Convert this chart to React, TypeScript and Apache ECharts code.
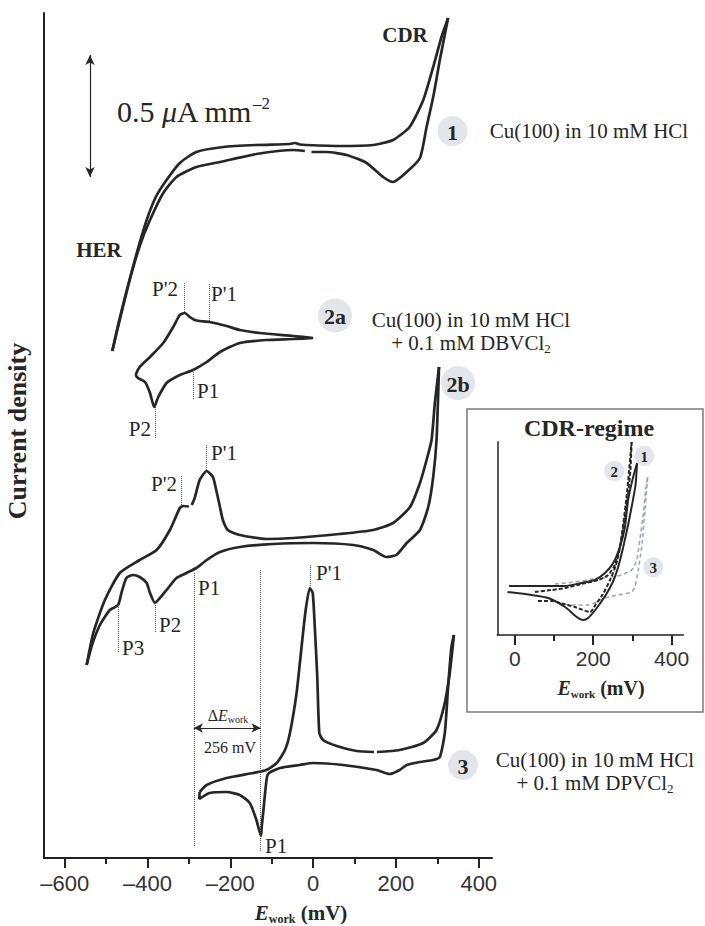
import React, { useEffect, useRef } from 'react';
import * as echarts from 'echarts';

// ---------- tick values (mV) ----------
const mainMajorTicks = [-600, -400, -200, 0, 200, 400];
const mainMinorTicks = [-500, -300, -100, 100, 300];
const insetMajorTicks = [0, 200, 400];
const insetMinorTicks = [100, 300];

// ---------- main panel: [E_work (mV), current density (offset, arb. units)] ----------
// 1: Cu(100) in 10 mM HCl
const cv1Anodic = [[-485, 507], [-470, 535], [-450, 568], [-426, 605], [-402, 638], [-380, 661], [-354, 678], [-322, 695], [-282, 706], [-217, 711], [-137, 713], [-56, 714], [-44, 715], [-32, 713.5], [-16, 713], [64, 712], [145, 713], [193, 718], [233, 731], [266, 758], [290, 791], [310, 821], [326, 840]];
const cv1CathodicA = [[326, 840], [306, 798], [290, 761], [274, 731], [258, 700], [226, 686], [193, 676], [169, 681], [129, 695], [81, 703], [32, 706], [-4, 706]];
const cv1CathodicB = [[-20, 707], [-48, 708], [-137, 704], [-225, 696], [-282, 691], [-330, 681], [-362, 665], [-394, 638], [-418, 613], [-443, 578], [-467, 538], [-485, 507]];

// 2a: + 0.1 mM DBVCl2 (closed loop)
const cv2aLoop = [[0, 520], [-48, 522], [-129, 525], [-177, 528], [-209, 532], [-250, 536], [-274, 537], [-286, 538], [-298, 541], [-310, 545], [-322, 543], [-338, 531], [-362, 515], [-394, 501], [-419, 491], [-428, 483], [-423, 480], [-406, 476], [-394, 465], [-384, 451], [-374, 461], [-354, 475], [-322, 483], [-290, 488], [-257, 496], [-225, 506], [-177, 515], [-113, 518], [-48, 519], [0, 520]];

// 2b
const cv2bAnodicA = [[-547, 193], [-531, 225], [-503, 258], [-467, 285], [-419, 298], [-378, 308], [-346, 328], [-322, 350], [-314, 352], [-300, 351.5]];
const cv2bAnodicB = [[-293, 353], [-286, 360], [-274, 378], [-257, 387], [-242, 381], [-233, 366], [-225, 351], [-218, 338], [-206, 328], [-177, 323], [-113, 319], [-48, 320], [64, 324], [145, 328], [193, 335], [234, 351], [258, 375], [274, 398], [286, 418], [294, 455], [304, 491]];
const cv2bCathodic = [[304, 491], [298, 418], [290, 381], [278, 351], [258, 328], [226, 315], [201, 303], [177, 301], [145, 308], [97, 313], [0, 315], [-97, 314], [-177, 311], [-225, 306], [-257, 298], [-282, 290], [-306, 285], [-330, 280], [-354, 268], [-370, 260], [-382, 255], [-394, 265], [-402, 275], [-419, 281], [-435, 283], [-451, 280], [-463, 265], [-471, 253], [-491, 248], [-515, 233], [-534, 213], [-547, 193]];

// 3: + 0.1 mM DPVCl2
const cv3AnodicA = [[-274, 66], [-257, 73], [-209, 80], [-145, 85], [-113, 88], [-88, 95], [-68, 108], [-56, 125], [-40, 165], [-28, 211], [-18, 248], [-8, 270], [-1, 265], [4, 231], [10, 181], [15, 125], [24, 118], [57, 112], [105, 107], [147, 106]];
const cv3AnodicB = [[154, 106], [209, 108], [266, 115], [298, 128], [318, 155], [330, 185], [337, 211], [340, 223]];
const cv3Cathodic = [[340, 223], [334, 211], [326, 171], [318, 125], [306, 101], [290, 98], [258, 96], [226, 93], [209, 88], [185, 84], [153, 88], [72, 93], [0, 95], [-32, 93], [-80, 90], [-109, 84], [-114, 73], [-119, 52], [-124, 32], [-126, 22], [-137, 38], [-153, 55], [-177, 63], [-209, 66], [-250, 65], [-275, 59], [-274, 66]];

// peak marker lines: [E (mV), from, to]
const markers2a = [[-311, 546, 576], [-252, 537, 575], [-290, 488, 458], [-382, 451, 420]];
const markers2b = [[-257, 388, 413], [-318, 353, 383], [-288, 285, 11], [-381, 255, 225], [-471, 253, 205]];
const markers3 = [[-6, 270, 293], [-127, 288, 6]];
const deltaArrow = [[-288, 130], [-127, 130]];
const scaleBar = [[-539, 681], [-539, 803]];

// ---------- inset (CDR-regime) ----------
const inset1Anodic = [[-15, 49], [64, 49], [128, 49], [170, 52], [204, 55], [230, 62], [251, 72], [268, 88], [281, 108], [289, 135], [300, 155], [312, 172]];
const inset1Cathodic = [[312, 172], [308, 150], [299, 130], [289, 110], [276, 87], [263, 67], [250, 53], [232, 40], [209, 27], [187, 17], [174, 15], [158, 18], [128, 28], [85, 37], [43, 40], [-19, 43]];
const inset2Anodic = [[51, 43], [94, 45], [128, 47], [170, 51], [213, 55], [238, 60], [255, 70], [268, 88], [277, 112], [285, 138], [291, 162], [298, 193]];
const inset2Cathodic = [[298, 193], [295, 165], [287, 135], [278, 110], [268, 87], [258, 70], [243, 55], [225, 41], [207, 31], [192, 23], [153, 28], [115, 32], [94, 34], [55, 34]];
const inset3Anodic = [[102, 51], [153, 53], [213, 57], [247, 58], [272, 60], [298, 65], [311, 75], [319, 95], [328, 122], [334, 145], [339, 158]];
const inset3Cathodic = [[339, 158], [332, 125], [325, 92], [315, 65], [306, 48], [298, 43], [264, 40], [230, 37], [187, 30], [145, 30], [102, 33]];

const SERIF = '"Liberation Serif", "Times New Roman", serif';
const SANS = '"Liberation Sans", Arial, sans-serif';
const INK = '#262626';
const BADGE = '#e2e5ea';

const dash = (v: number) => (v < 0 ? '\u2013' + Math.abs(v) : String(v));

function curve(data: number[][], grid: number, style: any) {
  return {
    type: 'line',
    data,
    xAxisIndex: grid === 0 ? 0 : 2,
    yAxisIndex: grid,
    showSymbol: false,
    symbol: 'none',
    smooth: 0.2,
    silent: true,
    z: 3,
    lineStyle: style,
  };
}

function markerLines(list: number[][]) {
  return {
    silent: true,
    symbol: ['none', 'none'],
    label: { show: false },
    lineStyle: { type: 'dotted', color: '#555', width: 1 },
    data: list.map(([x, a, b]) => [{ coord: [x, a] }, { coord: [x, b] }]),
  };
}

function text(x: number, y: number, t: string, size: number, o: any = {}) {
  return {
    type: 'text',
    x,
    y,
    z: 20,
    rotation: o.rotation || 0,
    style: {
      text: t,
      fill: INK,
      fontFamily: o.family || SERIF,
      fontSize: size,
      fontWeight: o.bold ? 'bold' : 'normal',
      fontStyle: o.italic ? 'italic' : 'normal',
      align: o.align || 'left',
      textAlign: o.align || 'left',
      verticalAlign: 'middle',
      textVerticalAlign: 'middle',
      rich: o.rich,
    },
  };
}

function badge(cx: number, cy: number, r: number, label: string, size: number) {
  return [
    { type: 'circle', z: 19, shape: { cx, cy, r }, style: { fill: BADGE } },
    text(cx, cy + 1, label, size, { bold: true, align: 'center' }),
  ];
}

function ework(size: number, sub: number) {
  return {
    e: { fontFamily: SERIF, fontSize: size, fontWeight: 'bold', fontStyle: 'italic', fill: INK, lineHeight: size + 2 },
    s: { fontFamily: SERIF, fontSize: sub, fontWeight: 'bold', fill: INK, verticalAlign: 'bottom', lineHeight: sub + 1 },
    m: { fontFamily: SERIF, fontSize: size, fontWeight: 'bold', fill: INK, lineHeight: size + 2 },
  };
}

const subRich = (size: number) => ({
  t: { fontFamily: SERIF, fontSize: size, fill: INK, lineHeight: size + 2 },
  sub: { fontFamily: SERIF, fontSize: Math.round(size * 0.6), fill: INK, verticalAlign: 'bottom', lineHeight: Math.round(size * 0.6) },
});

const graphics: any[] = [
  text(405, 35, 'CDR', 21, { bold: true, align: 'center' }),
  text(99, 250, 'HER', 21, { bold: true, align: 'center' }),
  text(117, 111, '{n|0.5 }{mu|\u03bc}{n|A mm}{sup|\u20132}', 30, {
    rich: {
      n: { fontFamily: SERIF, fontSize: 30, fill: INK, lineHeight: 32 },
      mu: { fontFamily: SERIF, fontSize: 30, fontStyle: 'italic', fill: INK, lineHeight: 32 },
      sup: { fontFamily: SERIF, fontSize: 17, fill: INK, verticalAlign: 'top', lineHeight: 17 },
    },
  }),
  text(17, 431, 'Current density', 26, { bold: true, align: 'center', rotation: Math.PI / 2 }),
  text(301, 913, '{e|E}{s|work}{m| (mV)}', 21, { align: 'center', rich: ework(21, 12) }),
  ...badge(452.5, 131, 15, '1', 22),
  text(589, 131, 'Cu(100) in 10 mM HCl', 21, { align: 'center' }),
  ...badge(335, 315.5, 17, '2a', 22),
  text(471, 320, 'Cu(100) in 10 mM HCl', 21, { align: 'center' }),
  text(471, 343, '{t|+ 0.1 mM DBVCl}{sub|2}', 21, { align: 'center', rich: subRich(21) }),
  ...badge(458, 383, 17, '2b', 22),
  ...badge(463, 765, 15, '3', 22),
  text(595, 760, 'Cu(100) in 10 mM HCl', 21, { align: 'center' }),
  text(595, 783, '{t|+ 0.1 mM DPVCl}{sub|2}', 21, { align: 'center', rich: subRich(21) }),
  // peak labels 2a
  text(178, 289, "P'2", 21, { align: 'right' }),
  text(211, 294, "P'1", 21),
  text(197, 390.5, 'P1', 21),
  text(151, 429, 'P2', 21, { align: 'right' }),
  // peak labels 2b
  text(211, 452.5, "P'1", 21),
  text(177, 484, "P'2", 21, { align: 'right' }),
  text(198, 587.5, 'P1', 21),
  text(159, 624.7, 'P2', 21),
  text(122, 647.5, 'P3', 21),
  // peak labels 3
  text(316, 572.5, "P'1", 21),
  text(265, 845.5, 'P1', 21),
  // delta E
  text(228, 715, '{d|\u0394}{e|E}{s|work}', 16, {
    align: 'center',
    rich: {
      d: { fontFamily: SERIF, fontSize: 16, fill: INK, lineHeight: 18 },
      e: { fontFamily: SERIF, fontSize: 16, fontStyle: 'italic', fill: INK, lineHeight: 18 },
      s: { fontFamily: SERIF, fontSize: 10, fill: INK, verticalAlign: 'bottom', lineHeight: 10 },
    },
  }),
  text(230, 747, '256 mV', 16, { align: 'center' }),
  // inset frame
  { type: 'rect', z: 1, shape: { x: 467, y: 409, width: 236, height: 303 }, style: { fill: 'none', stroke: '#7a7a7a', lineWidth: 1.5 } },
  text(589, 428, 'CDR-regime', 24, { bold: true, align: 'center' }),
  ...badge(644.3, 456, 10, '1', 15),
  ...badge(614.3, 471, 10, '2', 15),
  ...badge(653.3, 567.3, 10, '3', 15),
  text(601, 688, '{e|E}{s|work}{m| (mV)}', 20, { align: 'center', rich: ework(20, 11) }),
];

const axisLine = { show: true, onZero: false, lineStyle: { color: '#222', width: 2 } };

const option: any = {
  animation: false,
  backgroundColor: '#ffffff',
  grid: [
    { left: 44, right: 213, top: 13, bottom: 68 },
    { left: 497.3, right: 21.7, top: 441.7, bottom: 291 },
  ],
  xAxis: [
    {
      type: 'value', gridIndex: 0, position: 'bottom', min: -650, max: 432,
      axisLine,
      splitLine: { show: false },
      axisTick: { show: true, customValues: mainMajorTicks, length: 10, lineStyle: { color: '#222', width: 2 } },
      axisLabel: { show: true, customValues: mainMajorTicks, formatter: dash, fontFamily: SANS, fontSize: 22, color: '#333', margin: 14 },
    },
    {
      type: 'value', gridIndex: 0, position: 'bottom', min: -650, max: 432,
      axisLine: { show: false, onZero: false },
      splitLine: { show: false },
      axisTick: { show: true, customValues: mainMinorTicks, length: 6, lineStyle: { color: '#222', width: 2 } },
      axisLabel: { show: false },
    },
    {
      type: 'value', gridIndex: 1, position: 'bottom', min: -45, max: 430,
      axisLine: { show: true, onZero: false, lineStyle: { color: '#222', width: 1.5 } },
      splitLine: { show: false },
      axisTick: { show: true, customValues: insetMajorTicks, length: 10, lineStyle: { color: '#222', width: 2 } },
      axisLabel: { show: true, customValues: insetMajorTicks, formatter: dash, fontFamily: SANS, fontSize: 21, color: '#333', margin: 13 },
    },
    {
      type: 'value', gridIndex: 1, position: 'bottom', min: -45, max: 430,
      axisLine: { show: false, onZero: false },
      splitLine: { show: false },
      axisTick: { show: true, customValues: insetMinorTicks, length: 6, lineStyle: { color: '#222', width: 2 } },
      axisLabel: { show: false },
    },
  ],
  yAxis: [
    {
      type: 'value', gridIndex: 0, min: 0, max: 845,
      axisLine, axisTick: { show: false }, axisLabel: { show: false }, splitLine: { show: false },
    },
    {
      type: 'value', gridIndex: 1, min: 0, max: 193.3,
      axisLine: { show: true, onZero: false, lineStyle: { color: '#222', width: 1.5 } },
      axisTick: { show: false }, axisLabel: { show: false }, splitLine: { show: false },
    },
  ],
  series: [
    { ...curve(cv1Anodic, 0, { color: INK, width: 2.7 }),
      markLine: {
        silent: true, symbol: ['arrow', 'arrow'], symbolSize: [7, 10], label: { show: false },
        lineStyle: { type: 'solid', color: INK, width: 1.2 },
        data: [[{ coord: scaleBar[0] }, { coord: scaleBar[1] }]],
      } },
    curve(cv1CathodicA, 0, { color: INK, width: 2.7 }),
    curve(cv1CathodicB, 0, { color: INK, width: 2.7 }),
    { ...curve(cv2aLoop, 0, { color: INK, width: 2.7 }), markLine: markerLines(markers2a) },
    curve(cv2bAnodicA, 0, { color: INK, width: 2.7 }),
    curve(cv2bAnodicB, 0, { color: INK, width: 2.7 }),
    { ...curve(cv2bCathodic, 0, { color: INK, width: 2.7 }), markLine: markerLines(markers2b) },
    { ...curve(cv3AnodicA, 0, { color: INK, width: 2.7 }), markLine: markerLines(markers3) },
    curve(cv3AnodicB, 0, { color: INK, width: 2.7 }),
    { ...curve(cv3Cathodic, 0, { color: INK, width: 2.7 }),
      markLine: {
        silent: true, symbol: ['arrow', 'arrow'], symbolSize: [7, 9], label: { show: false },
        lineStyle: { type: 'solid', color: INK, width: 1.2 },
        data: [[{ coord: deltaArrow[0] }, { coord: deltaArrow[1] }]],
      } },
    curve(inset3Anodic, 1, { color: '#9ea6b2', width: 1.6, type: [4, 3] }),
    curve(inset3Cathodic, 1, { color: '#9ea6b2', width: 1.6, type: [4, 3] }),
    curve(inset2Anodic, 1, { color: INK, width: 2, type: [4, 2] }),
    curve(inset2Cathodic, 1, { color: INK, width: 2, type: [4, 2] }),
    curve(inset1Anodic, 1, { color: INK, width: 2 }),
    curve(inset1Cathodic, 1, { color: INK, width: 2 }),
  ],
  graphic: graphics,
};

export default function App() {
  const ref = useRef<HTMLDivElement>(null);
  useEffect(() => {
    const el = ref.current;
    if (!el) return;
    const chart = echarts.init(el, undefined, { renderer: 'svg', width: 705, height: 926 });
    chart.setOption(option);
    return () => chart.dispose();
  }, []);
  return (
    <div
      ref={ref}
      style={{ position: 'fixed', left: 0, top: 0, width: 705, height: 926, background: '#fff' }}
    />
  );
}
